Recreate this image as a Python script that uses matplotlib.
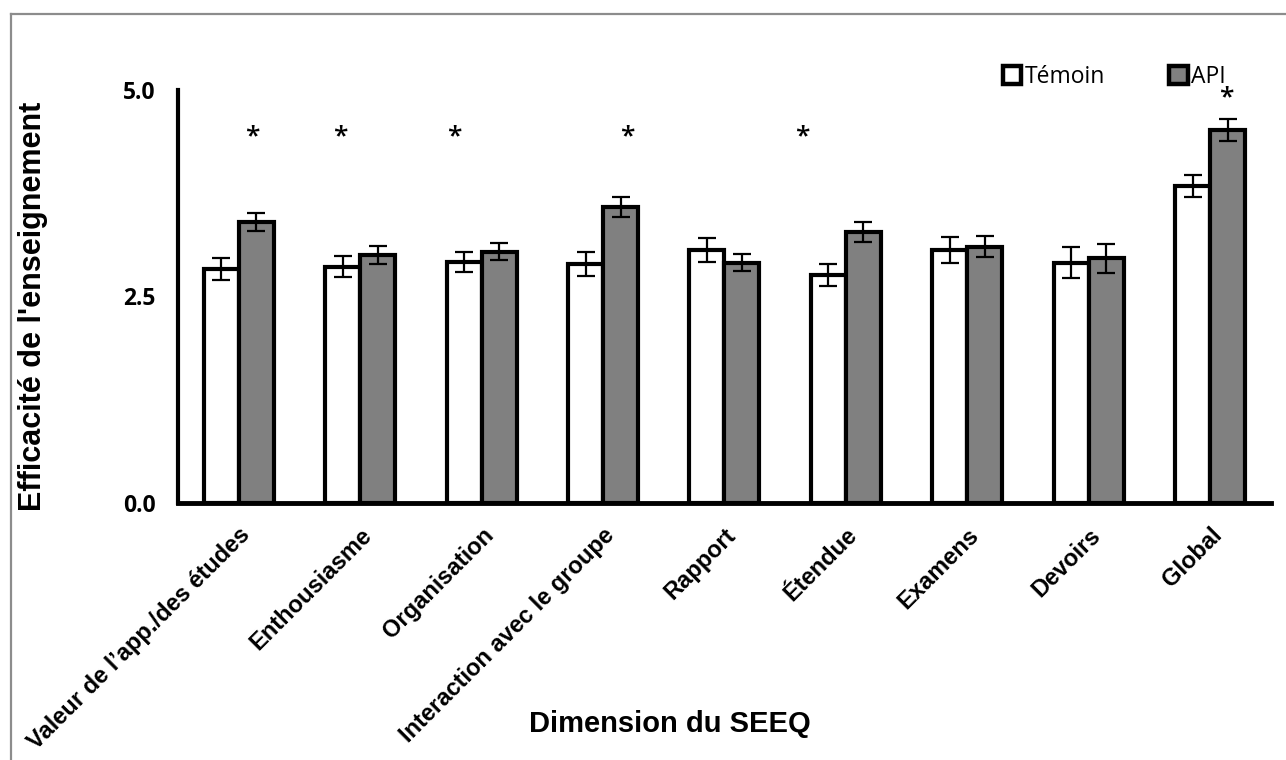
import numpy as np
import matplotlib
matplotlib.use("Agg")
import matplotlib.pyplot as plt
from matplotlib.lines import Line2D

# SEEQ dimensions and mean scores (with error bars) for each group
categories = ["Valeur de l\u2019app./des études", "Enthousiasme", "Organisation",
              "Interaction avec le groupe", "Rapport", "Étendue", "Examens",
              "Devoirs", "Global"]
temoin = [2.83, 2.86, 2.92, 2.89, 3.06, 2.76, 3.06, 2.91, 3.84]
temoin_err = [0.13, 0.13, 0.12, 0.145, 0.146, 0.13, 0.158, 0.187, 0.134]
api = [3.40, 3.00, 3.04, 3.58, 2.91, 3.28, 3.10, 2.96, 4.52]
api_err = [0.11, 0.11, 0.105, 0.12, 0.10, 0.126, 0.128, 0.18, 0.134]

# significance marks (x in category units, y in score units)
star_x = [0.113, 0.838, 1.774, 3.201, 4.64, 8.13]
star_y = [4.43, 4.43, 4.43, 4.43, 4.43, 4.90]

yticks = [0.0, 2.5, 5.0]

fig = plt.figure(figsize=(12.86, 7.60), dpi=100)
ax = fig.add_axes([0.1384, 0.3385, 0.8499, 0.5431])

x = np.arange(len(categories))
w = 0.288
edge = 3.0

ax.bar(x - w / 2, temoin, w, color="white", edgecolor="black", linewidth=edge,
       label="Témoin", zorder=2)
ax.bar(x + w / 2, api, w, color="#808080", edgecolor="black", linewidth=edge,
       label="API", zorder=2)
ax.errorbar(x - w / 2, temoin, yerr=temoin_err, fmt="none", ecolor="black",
            elinewidth=1.6, capsize=6.5, capthick=1.6, zorder=3)
ax.errorbar(x + w / 2, api, yerr=api_err, fmt="none", ecolor="black",
            elinewidth=1.6, capsize=6.5, capthick=1.6, zorder=3)

for sx, sy in zip(star_x, star_y):
    ax.text(sx, sy, "*", ha="center", va="center", fontsize=19,
            family="Open Sans", fontweight="semibold", color="black")

ax.set_xlim(-0.5, len(categories) - 0.5)
ax.set_ylim(0, 5.0)

for side in ["top", "right"]:
    ax.spines[side].set_visible(False)
ax.spines["left"].set_linewidth(3)
ax.spines["bottom"].set_linewidth(3.5)
ax.spines["bottom"].set_zorder(4)

ax.set_yticks(yticks)
ax.set_yticklabels([f"{v:.1f}" for v in yticks], family="Open Sans",
                   fontweight="bold", fontsize=16.5)
ax.tick_params(axis="y", length=0, pad=16)

ax.set_xticks(x)
ax.set_xticklabels(categories, rotation=45, ha="right", rotation_mode="anchor",
                   family="Liberation Sans", fontweight="bold", fontsize=17)
ax.tick_params(axis="x", length=0, pad=15)

fig.text(33 / 1286, 1 - 306 / 760, "Efficacité de l'enseignement", rotation=90,
         ha="center", va="center", family="Liberation Sans", fontweight="bold",
         fontsize=22)
fig.text(670 / 1286, 1 - 732 / 760, "Dimension du SEEQ", ha="center",
         va="baseline", family="Liberation Sans", fontweight="bold", fontsize=21)

leg = ax.legend(loc="center left", bbox_to_anchor=(1003 / 1286, 1 - 77 / 760),
                bbox_transform=fig.transFigure, ncol=2, frameon=False,
                prop={"family": "Open Sans", "size": 16.5}, handlelength=0.8,
                handleheight=0.8, handletextpad=0.15, columnspacing=2.8,
                borderpad=0, borderaxespad=0)
for h in leg.get_patches():
    h.set_linewidth(3.2)

# outer frame of the chart area
fig.add_artist(Line2D([11 / 1286, 1], [1 - 14 / 760] * 2, color="#8c8c8c",
                      linewidth=1.6, transform=fig.transFigure))
fig.add_artist(Line2D([11 / 1286] * 2, [0, 1 - 14 / 760], color="#8c8c8c",
                      linewidth=1.6, transform=fig.transFigure))

fig.savefig("out.png", dpi=100, facecolor="white")
